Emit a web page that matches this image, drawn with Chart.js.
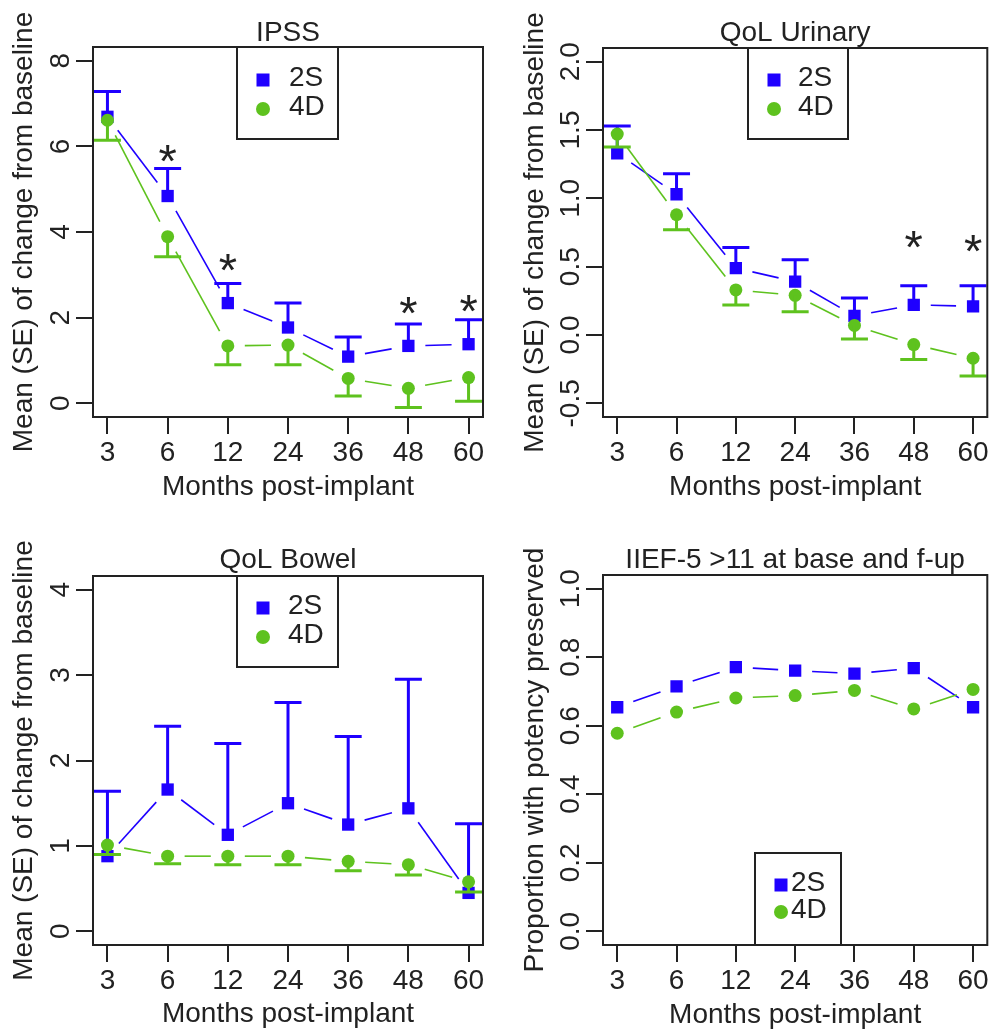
<!DOCTYPE html>
<html>
<head>
<meta charset="utf-8">
<script src="https://cdn.jsdelivr.net/npm/chart.js@4.4.0/dist/chart.umd.min.js"></script>
<style>
html,body{margin:0;padding:0;background:#fff;}
#wrap{position:relative;width:996px;height:1029px;overflow:hidden;background:#fff;}
canvas{position:absolute;}
</style>
</head>
<body>
<div id="wrap">
<canvas id="c1" width="498" height="514" style="left:0;top:0"></canvas>
<canvas id="c2" width="498" height="514" style="left:498px;top:0"></canvas>
<canvas id="c3" width="498" height="515" style="left:0;top:514px"></canvas>
<canvas id="c4" width="498" height="515" style="left:498px;top:514px"></canvas>
</div>
<script>
// ---------- data ----------
const months = ['3', '6', '12', '24', '36', '48', '60'];

// IPSS
const ipssMean2S  = [6.69, 4.84, 2.34, 1.77, 1.09, 1.34, 1.38];
const ipssUpper2S = [7.28, 5.48, 2.80, 2.34, 1.55, 1.85, 1.95];
const ipssMean4D  = [6.61, 3.89, 1.34, 1.36, 0.58, 0.35, 0.60];
const ipssLower4D = [6.14, 3.42, 0.90, 0.90, 0.17, -0.10, 0.05];
const ipssStars   = [null, 5.84, 3.29, null, null, 2.29, 2.34];
const ipssTicks   = [0, 2, 4, 6, 8];

// QoL Urinary
const urinMean2S  = [1.33, 1.03, 0.49, 0.39, 0.14, 0.22, 0.21];
const urinUpper2S = [1.53, 1.18, 0.64, 0.55, 0.27, 0.36, 0.36];
const urinMean4D  = [1.47, 0.88, 0.33, 0.29, 0.07, -0.07, -0.17];
const urinLower4D = [1.375, 0.77, 0.22, 0.17, -0.03, -0.18, -0.30];
const urinStars   = [null, null, null, null, null, 0.70, 0.67];
const urinTicks   = [-0.5, 0, 0.5, 1.0, 1.5, 2.0];

// QoL Bowel
const bowelMean2S  = [0.88, 1.66, 1.13, 1.50, 1.25, 1.44, 0.45];
const bowelUpper2S = [1.64, 2.40, 2.20, 2.68, 2.28, 2.95, 1.26];
const bowelMean4D  = [1.01, 0.88, 0.88, 0.88, 0.82, 0.78, 0.58];
const bowelLower4D = [0.90, 0.79, 0.78, 0.78, 0.71, 0.66, 0.46];
const bowelTicks   = [0, 1, 2, 3, 4];

// IIEF-5 >11
const iiefProp2S = [0.654, 0.715, 0.771, 0.761, 0.752, 0.768, 0.654];
const iiefProp4D = [0.578, 0.640, 0.681, 0.688, 0.703, 0.649, 0.706];
const iiefTicks  = [0, 0.2, 0.4, 0.6, 0.8, 1.0];

// ---------- style ----------
const FONT = '"Liberation Sans", Arial, Helvetica, sans-serif';
const INK = '#222222';
const BLUE = '#1f00ff';
const GREEN = '#5ec21e';
const FS = 28;
const TICK_LEN = 17;
const Y_LABEL_DIST = 32;
const CAP = 13.5;
const GAP = 17;
const STAR_SIZE = 47;

function gapDash(ctx) {
  const L = Math.hypot(ctx.p1.x - ctx.p0.x, ctx.p1.y - ctx.p0.y);
  return L > 2 * GAP ? [0, GAP, L - 2 * GAP, GAP] : [0, L + 1];
}

function ser2S(values, err) {
  return { label: '2S', values, err, color: BLUE, style: 'rect', radius: 8.7, order: 1 };
}
function ser4D(values, err) {
  return { label: '4D', values, err, color: GREEN, style: 'circle', radius: 6.5, order: 0 };
}

const PANELS = [
  { id: 'c1', title: 'IPSS', yTitle: 'Mean (SE) of change from baseline',
    area: { l: 93, r: 483, t: 47, b: 417 }, titleMid: 33, yTitleX: 24, xTitleMid: 487.3,
    yMin: -0.32, yMax: 8.32, ticks: ipssTicks, dec: 0,
    series: [ser2S(ipssMean2S, ipssUpper2S), ser4D(ipssMean4D, ipssLower4D)],
    stars: ipssStars,
    legend: { x: 237, y: 47, w: 101, h: 92, mx: 263, tx: 289, rows: [80, 109] } },
  { id: 'c2', title: 'QoL Urinary', yTitle: 'Mean (SE) of change from baseline',
    area: { l: 105, r: 494, t: 48, b: 417 }, titleMid: 33, yTitleX: 37, xTitleMid: 487,
    yMin: -0.6, yMax: 2.1, ticks: urinTicks, dec: 1,
    series: [ser2S(urinMean2S, urinUpper2S), ser4D(urinMean4D, urinLower4D)],
    stars: urinStars,
    legend: { x: 250, y: 48, w: 100, h: 91, mx: 276, tx: 300, rows: [80, 109] } },
  { id: 'c3', title: 'QoL Bowel', yTitle: 'Mean (SE) of change from baseline',
    area: { l: 93, r: 483, t: 62, b: 431 }, titleMid: 46.3, yTitleX: 24, xTitleMid: 500.3,
    yMin: -0.16, yMax: 4.16, ticks: bowelTicks, dec: 0,
    series: [ser2S(bowelMean2S, bowelUpper2S), ser4D(bowelMean4D, bowelLower4D)],
    stars: null,
    legend: { x: 237, y: 62, w: 101, h: 91, mx: 263, tx: 288, rows: [94, 123] } },
  { id: 'c4', title: 'IIEF-5 >11 at base and f-up', yTitle: 'Proportion with potency preserved',
    area: { l: 105, r: 494, t: 61, b: 431 }, titleMid: 46.3, yTitleX: 37, xTitleMid: 501,
    yMin: -0.04, yMax: 1.04, ticks: iiefTicks, dec: 1,
    series: [ser2S(iiefProp2S, null), ser4D(iiefProp4D, null)],
    stars: null,
    legend: { x: 257, y: 339, w: 86, h: 92, mx: 283, tx: 293, rows: [371, 398] } }
];

function overlay(p) {
  return {
    id: 'overlay_' + p.id,
    afterDatasetDraw(chart, args) {
      const s = p.series[args.index];
      if (!s || !s.err) return;
      const ctx = chart.ctx, xs = chart.scales.x, ys = chart.scales.y;
      ctx.save();
      ctx.strokeStyle = s.color;
      ctx.lineWidth = 3;
      ctx.lineCap = 'butt';
      s.err.forEach((e, i) => {
        if (e == null) return;
        const px = xs.getPixelForValue(i);
        const p0 = ys.getPixelForValue(s.values[i]);
        const p1 = ys.getPixelForValue(e);
        ctx.beginPath();
        ctx.moveTo(px, p0); ctx.lineTo(px, p1);
        ctx.moveTo(px - CAP, p1); ctx.lineTo(px + CAP, p1);
        ctx.stroke();
      });
      ctx.restore();
    },
    afterDraw(chart) {
      const ctx = chart.ctx, ca = chart.chartArea, xs = chart.scales.x, ys = chart.scales.y;
      ctx.save();
      ctx.strokeStyle = INK;
      ctx.lineWidth = 2;
      ctx.strokeRect(ca.left, ca.top, ca.right - ca.left, ca.bottom - ca.top);
      if (p.stars) {
        ctx.fillStyle = INK;
        ctx.font = STAR_SIZE + 'px ' + FONT;
        ctx.textAlign = 'center';
        ctx.textBaseline = 'alphabetic';
        const m = ctx.measureText('*');
        const off = (m.actualBoundingBoxAscent - m.actualBoundingBoxDescent) / 2;
        p.stars.forEach((v, i) => {
          if (v == null) return;
          ctx.fillText('*', xs.getPixelForValue(i), ys.getPixelForValue(v) + off);
        });
      }
      const L = p.legend;
      ctx.fillStyle = '#ffffff';
      ctx.fillRect(L.x, L.y, L.w, L.h);
      ctx.strokeRect(L.x, L.y, L.w, L.h);
      p.series.forEach((s, k) => {
        const y = L.rows[k];
        ctx.fillStyle = s.color;
        if (s.style === 'rect') {
          ctx.fillRect(L.mx - 6.5, y - 6.5, 13, 13);
        } else {
          ctx.beginPath();
          ctx.arc(L.mx, y, 7, 0, Math.PI * 2);
          ctx.fill();
        }
        ctx.fillStyle = INK;
        ctx.font = FS + 'px ' + FONT;
        ctx.textAlign = 'left';
        ctx.textBaseline = 'middle';
        ctx.fillText(s.label, L.tx, y - 1.5);
      });
      ctx.restore();
    }
  };
}

function makePanel(p) {
  const canvas = document.getElementById(p.id);
  const W = canvas.width, H = canvas.height;
  const a = p.area;
  const yLabels = p.ticks.map(v => v.toFixed(p.dec));
  const meas = document.createElement('canvas').getContext('2d');
  meas.font = FS + 'px ' + FONT;
  const widest = Math.max(...yLabels.map(s => meas.measureText(s).width));
  const yPad = Y_LABEL_DIST - TICK_LEN - widest / 2;
  const font = { family: FONT, size: FS, weight: 'normal', lineHeight: 1 };

  new Chart(canvas, {
    type: 'line',
    data: {
      datasets: p.series.map(s => ({
        label: s.label,
        data: s.values.map((v, i) => ({ x: i, y: v })),
        borderColor: s.color,
        backgroundColor: s.color,
        pointBackgroundColor: s.color,
        pointBorderColor: s.color,
        pointBorderWidth: 0,
        pointStyle: s.style,
        pointRadius: s.radius,
        pointHoverRadius: s.radius,
        borderWidth: 1.6,
        order: s.order,
        segment: { borderDash: gapDash }
      }))
    },
    options: {
      responsive: false,
      animation: false,
      devicePixelRatio: 1,
      events: [],
      layout: { padding: { left: 0, right: W - a.r, top: 0, bottom: 0 } },
      plugins: {
        legend: { display: false },
        tooltip: { enabled: false },
        title: {
          display: true, text: p.title, color: INK, fullSize: false,
          font: font,
          padding: { top: p.titleMid - FS / 2, bottom: a.t - p.titleMid - FS / 2 }
        }
      },
      scales: {
        x: {
          type: 'linear', min: -0.24, max: 6.24,
          afterBuildTicks: s => { s.ticks = months.map((m, i) => ({ value: i })); },
          afterFit: s => { s.height = H - a.b; },
          ticks: {
            callback: v => months[v], font: font, color: INK, padding: 5,
            maxRotation: 0, minRotation: 0, autoSkip: false
          },
          grid: { drawOnChartArea: false, drawTicks: true, tickLength: TICK_LEN, color: INK, lineWidth: 2 },
          border: { display: false },
          title: {
            display: true, text: 'Months post-implant', color: INK, font: font,
            padding: { top: 0, bottom: H - FS / 2 - p.xTitleMid }
          }
        },
        y: {
          type: 'linear', min: p.yMin, max: p.yMax,
          afterBuildTicks: s => { s.ticks = p.ticks.map(v => ({ value: v })); },
          afterFit: s => { s.width = a.l; },
          ticks: {
            callback: v => Number(v).toFixed(p.dec), font: font, color: INK,
            minRotation: 90, maxRotation: 90, crossAlign: 'center', padding: yPad, autoSkip: false
          },
          grid: { drawOnChartArea: false, drawTicks: true, tickLength: TICK_LEN, color: INK, lineWidth: 2 },
          border: { display: false },
          title: {
            display: true, text: p.yTitle, color: INK, font: font,
            padding: { top: p.yTitleX - FS / 2, bottom: 0 }
          }
        }
      }
    },
    plugins: [overlay(p)]
  });
}

PANELS.forEach(makePanel);
</script>
</body>
</html>
